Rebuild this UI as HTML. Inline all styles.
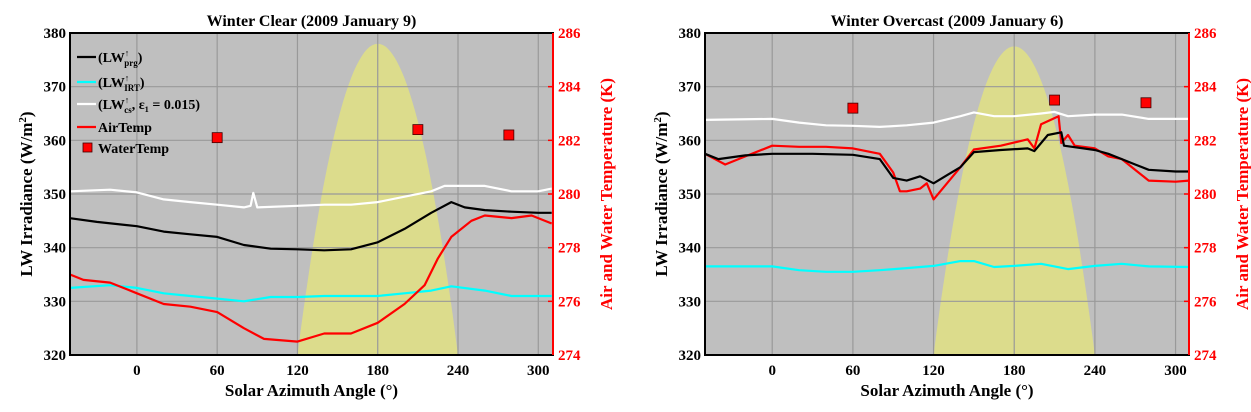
<!DOCTYPE html>
<html><head><meta charset="utf-8">
<style>
body{margin:0;background:#fff;}
svg{display:block;font-family:"Liberation Serif",serif;font-weight:bold;}
</style></head>
<body>
<svg id="svg" width="1251" height="412" viewBox="0 0 1251 412" xmlns="http://www.w3.org/2000/svg"></svg>
<script>
// ---- Shared tick labels ----
const xTicks = [0, 60, 120, 180, 240, 300];
const yTicks = [320, 330, 340, 350, 360, 370, 380];
const tTicks = [274, 276, 278, 280, 282, 284, 286];

// ---- Left: Winter Clear ----
const clearPrgX = [-50,-30,0,20,40,60,80,100,120,140,160,180,200,220,235,245,260,280,300,310];
const clearPrgY = [345.5,344.8,344,343,342.5,342,340.5,339.8,339.7,339.5,339.7,341,343.5,346.5,348.5,347.5,347,346.7,346.5,346.5];
const clearCsX = [-50,-20,0,20,40,60,80,85,87,90,120,140,160,180,200,220,230,260,280,300,310];
const clearCsY = [350.5,350.8,350.3,349,348.5,348,347.5,347.8,350.2,347.5,347.8,348,348,348.5,349.5,350.5,351.5,351.5,350.5,350.5,351];
const clearIrtX = [-50,-20,0,20,40,60,80,100,120,140,160,180,200,220,235,260,280,300,310];
const clearIrtY = [332.5,333,332.5,331.5,331,330.5,330,330.8,330.8,331,331,331,331.5,332,332.8,332,331,331,331];
const clearAirX = [-50,-40,-20,0,20,40,60,80,95,120,140,160,180,200,215,225,235,250,260,280,295,310];
const clearAirK = [277.0,276.8,276.7,276.3,275.9,275.8,275.6,275.0,274.6,274.5,274.8,274.8,275.2,275.9,276.6,277.6,278.4,279.0,279.2,279.1,279.2,278.9];
const clearWaterX = [60,210,278];
const clearWaterK = [282.1,282.4,282.2];

// ---- Right: Winter Overcast ----
const ovPrgX = [-50,-40,-20,0,30,60,80,90,100,110,120,130,140,150,170,190,195,205,215,217,240,250,260,270,280,300,310];
const ovPrgY = [357.5,356.5,357.2,357.5,357.5,357.3,356.5,353,352.5,353.3,352,353.5,355,357.8,358.2,358.5,358,361,361.5,359,358.2,357.5,356.5,355.5,354.5,354.2,354.2];
const ovAirX = [-50,-35,-20,0,20,40,60,80,90,95,100,110,115,120,130,140,150,170,190,195,200,213,215,220,225,240,250,260,270,280,300,310];
const ovAirLW = [357.5,355.5,357,359,358.8,358.8,358.5,357.5,354,350.5,350.5,351,352,349,352,355,358.3,359,360.2,358.5,363,364.5,359.5,361,359,358.5,357,356.5,354.5,352.5,352.3,352.5];
const ovCsX = [-50,0,20,40,60,80,100,120,140,150,165,180,200,210,220,240,260,280,310];
const ovCsY = [363.8,364,363.3,362.8,362.7,362.5,362.8,363.3,364.5,365.2,364.5,364.5,365,365.3,364.5,364.8,364.8,364,364];
const ovIrtX = [-50,0,20,40,60,80,100,120,140,150,165,180,200,220,240,260,280,310];
const ovIrtY = [336.5,336.5,335.8,335.5,335.5,335.8,336.2,336.6,337.5,337.5,336.4,336.6,337,336,336.6,337,336.5,336.4];
const ovWaterX = [60,210,278];
const ovWaterK = [283.2,283.5,283.4];

const NS = "http://www.w3.org/2000/svg";
const svg = document.getElementById('svg');
function mk(tag, attrs, parent) {
  const e = document.createElementNS(NS, tag);
  for (const k in attrs) e.setAttribute(k, attrs[k]);
  (parent || svg).appendChild(e);
  return e;
}
function txt(s, attrs, parent) { const e = mk('text', attrs, parent); e.textContent = s; return e; }

function drawChart(P) {
  const g = mk('g', {});
  
  
  const x = v => P.x0 + (v - (-50)) * (P.x1 - P.x0) / (P.xmax + 50);
  const y = v => 355 - (v - 320) * 322 / 60;
  const yt = v => 355 - (v - 274) * 322 / 12;
  const bg = mk('rect', {x: P.x0, y: 33, width: P.x1 - P.x0, height: 322, fill: '#bfbfbf'}, g);
  
  
  // sun parabola
  let d = '';
  for (let a = 120; a <= 240; a += 2) {
    const h = 320 + P.peak * (1 - Math.pow((a - 180) / 60, 2)) ;
    d += (a === 120 ? 'M' : 'L') + x(a).toFixed(1) + ',' + y(h).toFixed(1);
  }
  const sun = mk('path', {d: d + 'Z', fill: '#dcdc8c'}, g);
  
  
  // grid
  xTicks.forEach(t => {
    const l = mk('line', {x1: x(t), x2: x(t), y1: 33, y2: 355, stroke: '#999', 'stroke-width': 1.2}, g);
    
    
    const lb = txt(t, {x: x(t), y: 375, 'text-anchor': 'middle', 'font-size': 15}, g);
    
    
  });
  yTicks.forEach(t => {
    if (t > 320 && t < 380) {
      const l = mk('line', {x1: P.x0, x2: P.x1, y1: y(t), y2: y(t), stroke: '#999', 'stroke-width': 1.2}, g);
      
      
    }
    const lb = txt(t, {x: P.x0 - 4, y: y(t) + 5, 'text-anchor': 'end', 'font-size': 15}, g);
    
    
  });
  tTicks.forEach(t => {
    const tk = mk('line', {x1: P.x1, x2: P.x1 - 5, y1: yt(t), y2: yt(t), stroke: '#f00', 'stroke-width': 1.5}, g);
    
    
    const lb = txt(t, {x: P.x1 + 5, y: yt(t) + 5, 'font-size': 15, fill: '#f00'}, g);
    
    
  });
  function line(xs, ys, f, color, name) {
    const pts = xs.map((v, i) => x(v).toFixed(1) + ',' + f(ys[i]).toFixed(1)).join(' ');
    const p = mk('polyline', {points: pts, fill: 'none', stroke: color, 'stroke-width': 2.2, 'stroke-linejoin': 'round'}, g);
    
    
  }
  line(P.csX, P.csY, y, '#fff', 'lw-cs-line');
  line(P.irtX, P.irtY, y, '#00ffff', 'lw-irt-line');
  line(P.airX, P.airK, yt, '#ff0000', 'air-temp-line');
  line(P.prgX, P.prgY, y, '#000', 'lw-prg-line');
  P.wX.forEach((v, i) => {
    const r = mk('rect', {x: x(v) - 5, y: yt(P.wK[i]) - 5, width: 10, height: 10, fill: '#f00', stroke: '#400', 'stroke-width': 0.8}, g);
    
    
  });
  const fr = mk('rect', {x: P.x0, y: 33, width: P.x1 - P.x0, height: 322, fill: 'none', stroke: '#000', 'stroke-width': 2}, g);
  
  
  const ra = mk('line', {x1: P.x1, x2: P.x1, y1: 33, y2: 355, stroke: '#f00', 'stroke-width': 2}, g);
  
  
  const ti = txt(P.title, {x: (P.x0 + P.x1) / 2, y: 26, 'text-anchor': 'middle', 'font-size': 16}, g);
  
  
  const xt = txt('Solar Azimuth Angle (°)', {x: (P.x0 + P.x1) / 2, y: 396, 'text-anchor': 'middle', 'font-size': 17}, g);
  
  
  const yl = mk('text', {x: 0, y: 0, 'text-anchor': 'middle', 'font-size': 17, transform: `translate(${P.x0 - 38},194) rotate(-90)`}, g);
  yl.innerHTML = 'LW Irradiance (W/m<tspan dy="-6" font-size="11">2</tspan><tspan dy="6">)</tspan>';
  
  
  const yr = txt('Air and Water Temperature (K)', {x: 0, y: 0, 'text-anchor': 'middle', 'font-size': 17, fill: '#f00', transform: `translate(${P.x1 + 59},194) rotate(-90)`}, g);
  
  
  return g;
}

const gl = drawChart({name: 'winter-clear-chart', title: 'Winter Clear (2009 January 9)', x0: 70, x1: 553, xmax: 311, peak: 58,
  prgX: clearPrgX, prgY: clearPrgY, csX: clearCsX, csY: clearCsY, irtX: clearIrtX, irtY: clearIrtY,
  airX: clearAirX, airK: clearAirK, wX: clearWaterX, wK: clearWaterK});
drawChart({name: 'winter-overcast-chart', title: 'Winter Overcast (2009 January 6)', x0: 705, x1: 1189, xmax: 310, peak: 57.5,
  prgX: ovPrgX, prgY: ovPrgY, csX: ovCsX, csY: ovCsY, irtX: ovIrtX, irtY: ovIrtY,
  airX: ovAirX, airK: ovAirLW.map(v => 274 + (v - 320) / 5), wX: ovWaterX, wK: ovWaterK});

// Legend (left chart)
const leg = mk('g', {'font-size': 14});


const items = [
  ['#000', '(LW', '↑', 'prg', ')', 57],
  ['#00ffff', '(LW', '↑', 'IRT', ')', 82],
  ['#fff', '(LW', '↑', 'cs', ', ε₁ = 0.015)', 104],
  ['#f00', 'AirTemp', '', '', '', 127]
];
items.forEach(it => {
  const e = mk('g', {}, leg);
  
  
  mk('line', {x1: 77, x2: 96, y1: it[5], y2: it[5], stroke: it[0], 'stroke-width': 2.2}, e);
  const t = mk('text', {x: 98, y: it[5] + 5}, e);
  if (it[2]) t.innerHTML = `${it[1]}<tspan dy="-6" font-size="9">${it[2]}</tspan><tspan dx="-5" dy="10" font-size="9">${it[3]}</tspan><tspan dy="-4">${it[4]}</tspan>`;
  else t.textContent = it[1];
});
const we = mk('g', {}, leg);


mk('rect', {x: 83, y: 143, width: 9, height: 9, fill: '#f00', stroke: '#400', 'stroke-width': 0.8}, we);
txt('WaterTemp', {x: 98, y: 153}, we);
</script>
</body></html>
